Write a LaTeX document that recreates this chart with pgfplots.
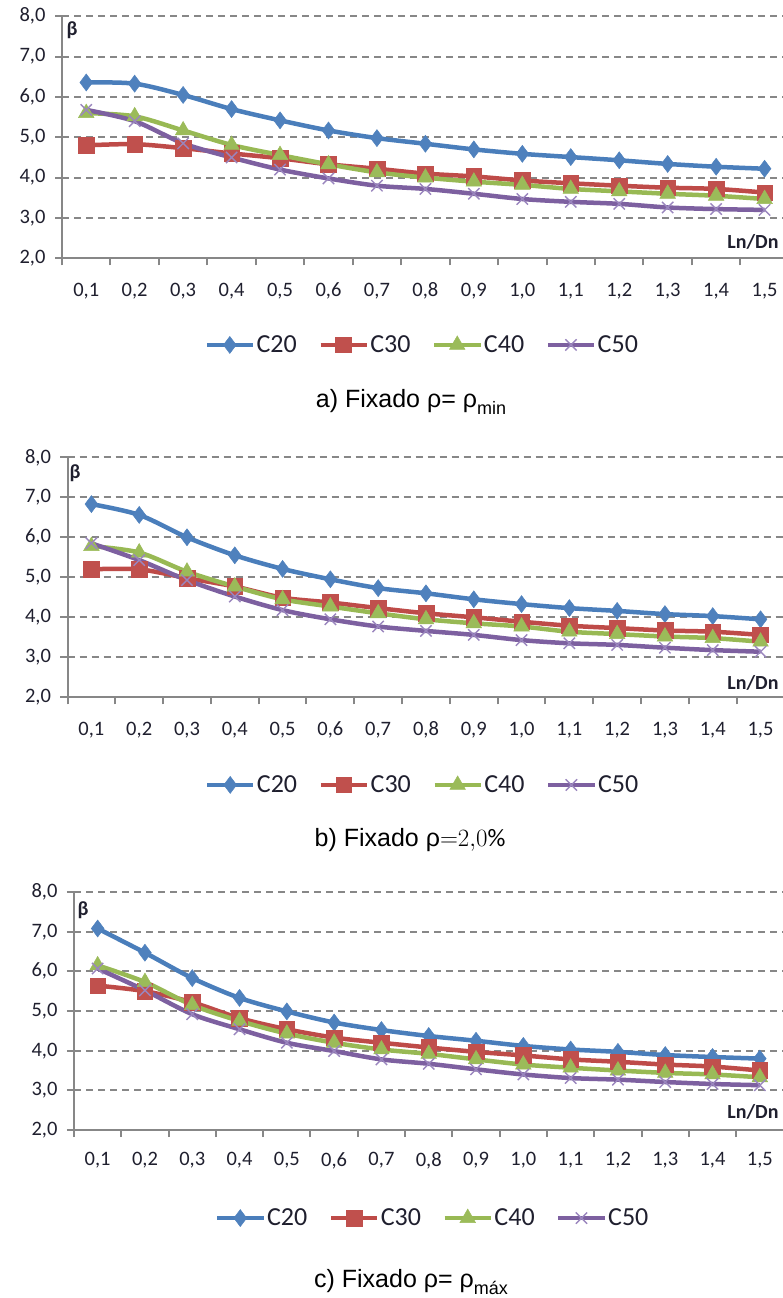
\documentclass[border=0pt]{standalone}
\usepackage{pgfplots}
\pgfplotsset{compat=1.18}
\usepackage{pgfplotstable}
\usepackage{fontspec}
\setmainfont{Carlito}
\newfontfamily\arial{Liberation Sans}

\definecolor{cA}{HTML}{4A7EBB}
\definecolor{cAm}{HTML}{4F81BD}
\definecolor{cB}{HTML}{BE4B48}
\definecolor{cBm}{HTML}{C0504D}
\definecolor{cC}{HTML}{98B954}
\definecolor{cCm}{HTML}{9BBB59}
\definecolor{cD}{HTML}{7D60A0}
\definecolor{cDm}{HTML}{9A86BE}
\definecolor{gridc}{HTML}{878787}
\definecolor{axc}{HTML}{878787}
\definecolor{txt}{HTML}{1F1F2E}

\pgfplotstableread{
x   c20  c30  c40  c50
0.1 6.36 4.80 5.60 5.68
0.2 6.33 4.83 5.52 5.40
0.3 6.05 4.73 5.17 4.85
0.4 5.70 4.60 4.81 4.50
0.5 5.42 4.48 4.56 4.20
0.6 5.17 4.33 4.33 3.98
0.7 4.98 4.22 4.13 3.80
0.8 4.84 4.10 4.00 3.72
0.9 4.70 4.03 3.90 3.60
1.0 4.59 3.93 3.82 3.47
1.1 4.51 3.86 3.72 3.40
1.2 4.43 3.80 3.66 3.35
1.3 4.34 3.75 3.60 3.26
1.4 4.27 3.72 3.55 3.22
1.5 4.22 3.63 3.47 3.20
}\tabA

\pgfplotstableread{
x   c20  c30  c40  c50
0.1 6.83 5.20 5.78 5.85
0.2 6.56 5.20 5.62 5.43
0.3 6.00 4.98 5.14 4.93
0.4 5.55 4.77 4.77 4.52
0.5 5.21 4.49 4.45 4.18
0.6 4.95 4.37 4.27 3.95
0.7 4.73 4.23 4.10 3.77
0.8 4.60 4.10 3.95 3.66
0.9 4.45 4.00 3.85 3.56
1.0 4.33 3.89 3.77 3.43
1.1 4.23 3.79 3.64 3.35
1.2 4.16 3.73 3.58 3.31
1.3 4.08 3.67 3.52 3.24
1.4 4.03 3.64 3.48 3.18
1.5 3.95 3.56 3.39 3.14
}\tabB

\pgfplotstableread{
x   c20  c30  c40  c50
0.1 7.08 5.64 6.15 6.07
0.2 6.47 5.50 5.73 5.52
0.3 5.83 5.22 5.15 4.92
0.4 5.33 4.82 4.75 4.54
0.5 4.99 4.54 4.43 4.20
0.6 4.71 4.33 4.20 3.99
0.7 4.52 4.20 4.03 3.78
0.8 4.37 4.08 3.92 3.67
0.9 4.25 3.97 3.78 3.53
1.0 4.12 3.88 3.65 3.40
1.1 4.03 3.78 3.57 3.31
1.2 3.97 3.72 3.50 3.27
1.3 3.89 3.65 3.44 3.21
1.4 3.84 3.60 3.40 3.16
1.5 3.80 3.50 3.33 3.13
}\tabC

\pgfplotsset{
  panel/.style={
    scale only axis,
    axis lines=left,
    axis line style={draw=axc, line width=2pt, -},
    ymin=2, ymax=8,
    ytick={2,3,4,5,6,7,8},
    yticklabels={{2,0},{3,0},{4,0},{5,0},{6,0},{7,0},{8,0}},
    xtick={0.05,0.15,0.25,0.35,0.45,0.55,0.65,0.75,0.85,0.95,1.05,1.15,1.25,1.35,1.45},
    xticklabels={{0,1},{0,2},{0,3},{0,4},{0,5},{0,6},{0,7},{0,8},{0,9},{1,0},{1,1},{1,2},{1,3},{1,4},{1,5}},
    tick align=outside,
    major tick length=7pt,
    tick style={draw=axc, line width=2pt},
    ymajorgrids,
    major grid style={draw=gridc, line width=2pt, dash pattern=on 7pt off 5pt},
    ticklabel style={font=\fontsize{20.5}{24}\selectfont, text=txt},
    yticklabel style={xshift=-6pt},
    legend style={draw=none, fill=none, legend columns=4,
      font=\fontsize{26}{30}\selectfont, text=txt,
      /tikz/every even column/.append style={column sep=20pt},
      nodes={inner sep=1.5pt}, anchor=center},
    legend image code/.code={\draw[mark repeat=2,mark phase=2] plot coordinates {(0pt,0pt) (23pt,0pt) (46pt,0pt)};},
    clip=false,
  },
  sA/.style={color=cA, line width=4.5pt, smooth, mark=diamond*, mark size=8.5pt, mark options={fill=cAm, draw=cAm, line width=0.5pt}},
  sB/.style={color=cB, line width=4.5pt, smooth, mark=square*, mark size=7.8pt, mark options={fill=cBm, draw=cBm, line width=0.5pt}},
  sC/.style={color=cC, line width=4.5pt, smooth, mark=triangle*, mark size=9pt, mark options={fill=cCm, draw=cCm, line width=0.5pt}},
  sD/.style={color=cD, line width=4.5pt, smooth, mark=x, mark size=8pt, mark options={draw=cDm, line width=1.4pt}},
}

\begin{document}
\begin{tikzpicture}
\useasboundingbox (0pt,0pt) rectangle (783pt,-1298pt);

% ---------- panel a ----------
\begin{axis}[panel, at={(62pt,-258.3pt)}, anchor=south west,
  width=721pt, height=242pt, xmin=0.05, xmax=1.538,
  xticklabel style={xshift=24.2pt, yshift=-14pt},
  legend style={at={(0.4993,-0.358)}}]
\addplot[sA] table[x=x,y=c20] {\tabA};
\addplot[sB] table[x=x,y=c30] {\tabA};
\addplot[sC] table[x=x,y=c40] {\tabA};
\addplot[sD] table[x=x,y=c50] {\tabA};
\legend{C20,C30,C40,C50}
\end{axis}

% ---------- panel b ----------
\begin{axis}[panel, at={(67.5pt,-697.3pt)}, anchor=south west,
  width=715.5pt, height=240pt, xmin=0.05, xmax=1.547,
  xticklabel style={xshift=23.9pt, yshift=-14pt},
  legend style={at={(0.496,-0.365)}}]
\addplot[sA] table[x=x,y=c20] {\tabB};
\addplot[sB] table[x=x,y=c30] {\tabB};
\addplot[sC] table[x=x,y=c40] {\tabB};
\addplot[sD] table[x=x,y=c50] {\tabB};
\legend{C20,C30,C40,C50}
\end{axis}

% ---------- panel c ----------
\begin{axis}[panel, at={(74pt,-1130pt)}, anchor=south west,
  width=709pt, height=238pt, xmin=0.05, xmax=1.549,
  xticklabel style={xshift=23.65pt, yshift=-12pt},
  legend style={at={(0.5056,-0.37)}}]
\addplot[sA] table[x=x,y=c20] {\tabC};
\addplot[sB] table[x=x,y=c30] {\tabC};
\addplot[sC] table[x=x,y=c40] {\tabC};
\addplot[sD] table[x=x,y=c50] {\tabC};
\legend{C20,C30,C40,C50}
\end{axis}

% axis titles
\node[font=\fontsize{20}{24}\selectfont\bfseries, text=txt] at (72pt,-30pt) {β};
\node[font=\fontsize{20}{24}\selectfont\bfseries, text=txt] at (75pt,-473pt) {β};
\node[font=\fontsize{20}{24}\selectfont\bfseries, text=txt] at (83pt,-910pt) {β};
\node[font=\fontsize{20}{24}\selectfont\bfseries, text=txt, anchor=east] at (782pt,-242pt) {Ln/Dn};
\node[font=\fontsize{20}{24}\selectfont\bfseries, text=txt, anchor=east] at (782pt,-683pt) {Ln/Dn};
\node[font=\fontsize{20}{24}\selectfont\bfseries, text=txt, anchor=east] at (782pt,-1112pt) {Ln/Dn};

% captions
\node[font=\arial\fontsize{25}{29}\selectfont] at (411pt,-402pt) {a) Fixado ρ= ρ\raisebox{-0.25em}{\fontsize{18}{18}\selectfont min}};
\node[font=\arial\fontsize{25}{29}\selectfont] at (410pt,-840pt) {b) Fixado ρ${=}2{,}0\%$};
\node[font=\arial\fontsize{25}{29}\selectfont] at (411pt,-1282pt) {c) Fixado ρ= ρ\raisebox{-0.25em}{\fontsize{18}{18}\selectfont máx}};
\end{tikzpicture}
\end{document}
